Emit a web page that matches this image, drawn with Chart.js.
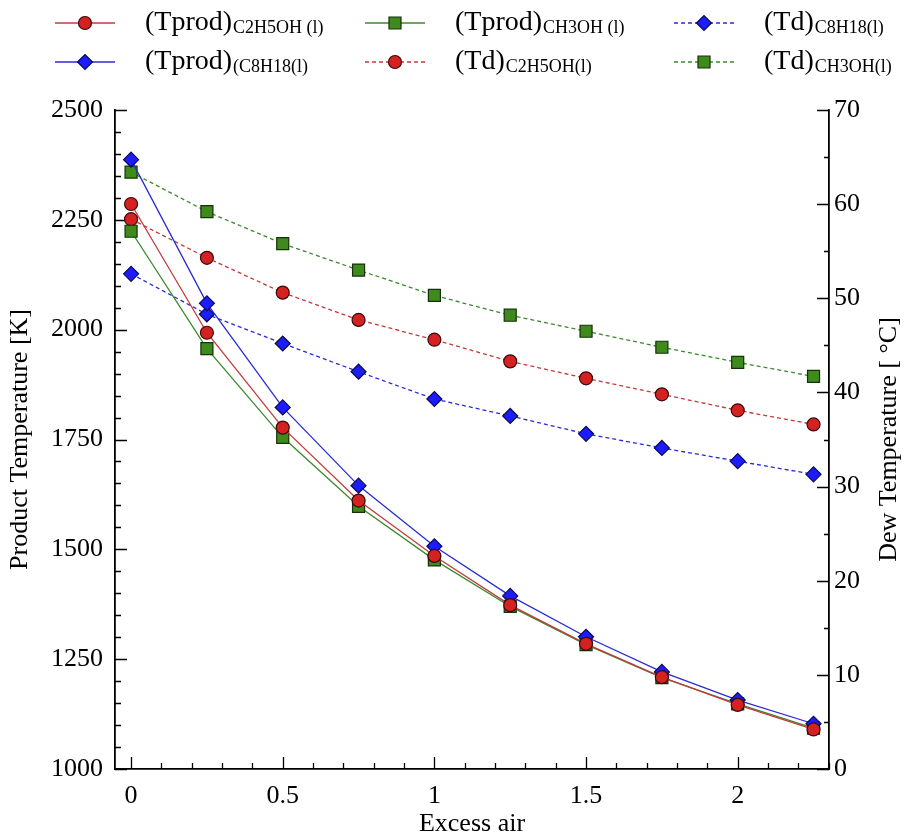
<!DOCTYPE html>
<html>
<head>
<meta charset="utf-8">
<title>Product and dew temperature vs excess air</title>
<script src="https://cdn.jsdelivr.net/npm/chart.js@4.4.1/dist/chart.umd.min.js"></script>
<style>
	html, body { margin: 0; padding: 0; background: #fff; }
	#wrap { width: 907px; height: 840px; }
</style>
</head>
<body>
<div id="wrap"><canvas id="line-chart-excess-air" width="907" height="840"></canvas></div>
<script>
"use strict";

// values
const excessAir = [0, 0.25, 0.5, 0.75, 1, 1.25, 1.5, 1.75, 2, 2.25];

const tprodC2H5OH = [2286, 1993, 1777, 1611, 1485, 1373, 1285, 1209, 1146, 1090];
const tprodCH3OH = [2224, 1957, 1755, 1598, 1476, 1370, 1283, 1208, 1148, 1093];
const tprodC8H18 = [2387, 2060, 1823, 1645, 1507, 1394, 1301, 1221, 1157, 1103];

const tdC2H5OH = [58.4, 54.3, 50.6, 47.7, 45.6, 43.3, 41.5, 39.8, 38.1, 36.6];
const tdCH3OH = [63.4, 59.2, 55.8, 53.0, 50.3, 48.2, 46.5, 44.8, 43.2, 41.7];
const tdC8H18 = [52.6, 48.3, 45.2, 42.2, 39.3, 37.5, 35.6, 34.1, 32.7, 31.3];

const xTicks = [0, 0.5, 1, 1.5, 2];
const xTickLabels = ['0', '0.5', '1', '1.5', '2'];
const leftTicks = [1000, 1250, 1500, 1750, 2000, 2250, 2500];
const rightTicks = [0, 10, 20, 30, 40, 50, 60, 70];

const xTitle = 'Excess air';
const leftTitle = 'Product Temperature [K]';
const rightTitle = 'Dew Temperature [ °C]';

// legend: main text + subscript, in column order
const legendMain = ['(Tprod)', '(Tprod)', '(Tprod)', '(Td)', '(Td)', '(Td)'];
const legendSub = ['C2H5OH (l)', '(C8H18(l)', 'CH3OH (l)', 'C2H5OH(l)', 'C8H18(l)', 'CH3OH(l)'];

const SERIF = '"Liberation Serif", "DejaVu Serif", serif';

function toPoints(values) {
	return values.map((v, i) => ({x: excessAir[i], y: v}));
}

const RED = {line: '#c23b3b', fill: '#d42222', edge: '#3c0808'};
const GREEN = {line: '#3a8a2c', fill: '#3e8a1c', edge: '#16300a'};
const BLUE = {line: '#2b2bd6', fill: '#1c1cff', edge: '#0a0a55'};

function series(label, values, axis, col, style, radius, dashed) {
	return {
		label: label,
		data: toPoints(values),
		yAxisID: axis,
		borderColor: col.line,
		borderWidth: 1.3,
		borderDash: dashed ? [4, 3] : [],
		backgroundColor: col.fill,
		pointBackgroundColor: col.fill,
		pointBorderColor: col.edge,
		pointBorderWidth: 1.2,
		pointStyle: style,
		pointRadius: radius,
		tension: 0,
		fill: false
	};
}

const datasets = [
	series('(Tprod)C2H5OH (l)', tprodC2H5OH, 'yL', RED, 'circle', 6.5, false),
	series('(Tprod)(C8H18(l)', tprodC8H18, 'yL', BLUE, 'rectRot', 7.5, false),
	series('(Tprod)CH3OH (l)', tprodCH3OH, 'yL', GREEN, 'rect', 8.5, false),
	series('(Td)C2H5OH(l)', tdC2H5OH, 'yR', RED, 'circle', 6.5, true),
	series('(Td)C8H18(l)', tdC8H18, 'yR', BLUE, 'rectRot', 7.5, true),
	series('(Td)CH3OH(l)', tdCH3OH, 'yR', GREEN, 'rect', 8.5, true)
];

// inward major and minor tick marks on all three axes
const tickMarks = {
	id: 'tickMarks',
	beforeDatasetsDraw(chart) {
		const {ctx, chartArea: a} = chart;
		const sx = chart.scales.x, sl = chart.scales.yL, sr = chart.scales.yR;
		ctx.save();
		ctx.strokeStyle = '#000';
		ctx.lineWidth = 1.3;
		ctx.beginPath();
		const nx = Math.round(excessAir[excessAir.length - 1] / 0.1);
		for (let i = 0; i <= nx; i++) {
			const px = Math.round(sx.getPixelForValue(i * 0.1)) + 0.5;
			const len = i % 5 === 0 ? 12 : 6;
			ctx.moveTo(px, a.bottom);
			ctx.lineTo(px, a.bottom - len);
		}
		for (let i = 0; i <= 30; i++) {
			const py = Math.round(sl.getPixelForValue(1000 + i * 50)) + 0.5;
			const len = i % 5 === 0 ? 12 : 6;
			ctx.moveTo(a.left, py);
			ctx.lineTo(a.left + len, py);
		}
		for (let i = 0; i <= 14; i++) {
			const py = Math.round(sr.getPixelForValue(i * 5)) + 0.5;
			const len = i % 2 === 0 ? 12 : 5;
			ctx.moveTo(a.right, py);
			ctx.lineTo(a.right - len, py);
		}
		ctx.stroke();
		ctx.restore();
	}
};

// right axis title (reads bottom to top) and the two-row legend
const extras = {
	id: 'extras',
	afterDraw(chart) {
		const ctx = chart.ctx;
		ctx.save();
		ctx.fillStyle = '#000';
		ctx.font = '26px ' + SERIF;
		ctx.textAlign = 'center';
		ctx.textBaseline = 'middle';
		ctx.translate(889, (chart.chartArea.top + chart.chartArea.bottom) / 2);
		ctx.rotate(-Math.PI / 2);
		ctx.fillText(rightTitle, 0, 0);
		ctx.restore();

		const colX = [55, 365, 674];
		const rowY = [23, 62];
		datasets.forEach((ds, i) => {
			const col = Math.floor(i / 2), row = i % 2;
			const x0 = colX[col], y = rowY[row];
			ctx.save();
			ctx.strokeStyle = ds.borderColor;
			ctx.lineWidth = 1.3;
			ctx.setLineDash(ds.borderDash);
			ctx.beginPath();
			ctx.moveTo(x0, y);
			ctx.lineTo(x0 + 60, y);
			ctx.stroke();
			ctx.setLineDash([]);
			ctx.fillStyle = ds.pointBackgroundColor;
			ctx.strokeStyle = ds.pointBorderColor;
			ctx.lineWidth = ds.pointBorderWidth;
			Chart.helpers.drawPoint(ctx, {pointStyle: ds.pointStyle, radius: ds.pointRadius, borderWidth: ds.pointBorderWidth, rotation: 0}, x0 + 30, y);
			ctx.fillStyle = '#000';
			ctx.textAlign = 'left';
			ctx.textBaseline = 'middle';
			ctx.font = '28px ' + SERIF;
			const tx = x0 + 90;
			ctx.fillText(legendMain[i], tx, y);
			const w = ctx.measureText(legendMain[i]).width;
			ctx.font = '18px ' + SERIF;
			ctx.fillText(legendSub[i], tx + w + 1, y + 5);
			ctx.restore();
		});
	}
};

function displayExcessAirChart() {
	const ctx = document.querySelector('#line-chart-excess-air').getContext('2d');
	new Chart(ctx, {
		type: 'line',
		data: {datasets: datasets},
		options: {
			responsive: false,
			animation: false,
			devicePixelRatio: 1,
			layout: {padding: {top: 110, left: 0, right: 0, bottom: 0}},
			plugins: {legend: {display: false}, tooltip: {enabled: false}},
			scales: {
				x: {
					type: 'linear',
					min: -0.053,
					max: 2.301,
					grid: {display: false, drawTicks: false},
					border: {display: true, color: '#000', width: 1.8},
					afterBuildTicks: s => { s.ticks = xTicks.map(v => ({value: v})); },
					afterFit: s => { s.height = 71; },
					ticks: {
						color: '#000',
						padding: 12,
						font: {family: SERIF, size: 26},
						callback: (v) => xTickLabels[xTicks.indexOf(v)]
					},
					title: {display: true, text: xTitle, color: '#000', font: {family: SERIF, size: 26}, padding: {top: 0, bottom: 0}}
				},
				yL: {
					type: 'linear',
					position: 'left',
					min: 1000,
					max: 2500,
					grid: {display: false, drawTicks: false},
					border: {display: true, color: '#000', width: 1.8},
					afterBuildTicks: s => { s.ticks = leftTicks.map(v => ({value: v})); },
					afterFit: s => { s.width = 115; },
					ticks: {color: '#000', padding: 12, font: {family: SERIF, size: 26}, callback: (v) => String(v)},
					title: {display: true, text: leftTitle, color: '#000', font: {family: SERIF, size: 26}, padding: {top: 5, bottom: 0}}
				},
				yR: {
					type: 'linear',
					position: 'right',
					min: 0,
					max: 70,
					grid: {display: false, drawTicks: false},
					border: {display: true, color: '#000', width: 1.8},
					afterBuildTicks: s => { s.ticks = rightTicks.map(v => ({value: v})); },
					afterFit: s => { s.width = 78; },
					ticks: {color: '#000', padding: 5, font: {family: SERIF, size: 26}, callback: (v) => String(v)}
				}
			}
		},
		plugins: [tickMarks, extras]
	});
}

displayExcessAirChart();
</script>
</body>
</html>
